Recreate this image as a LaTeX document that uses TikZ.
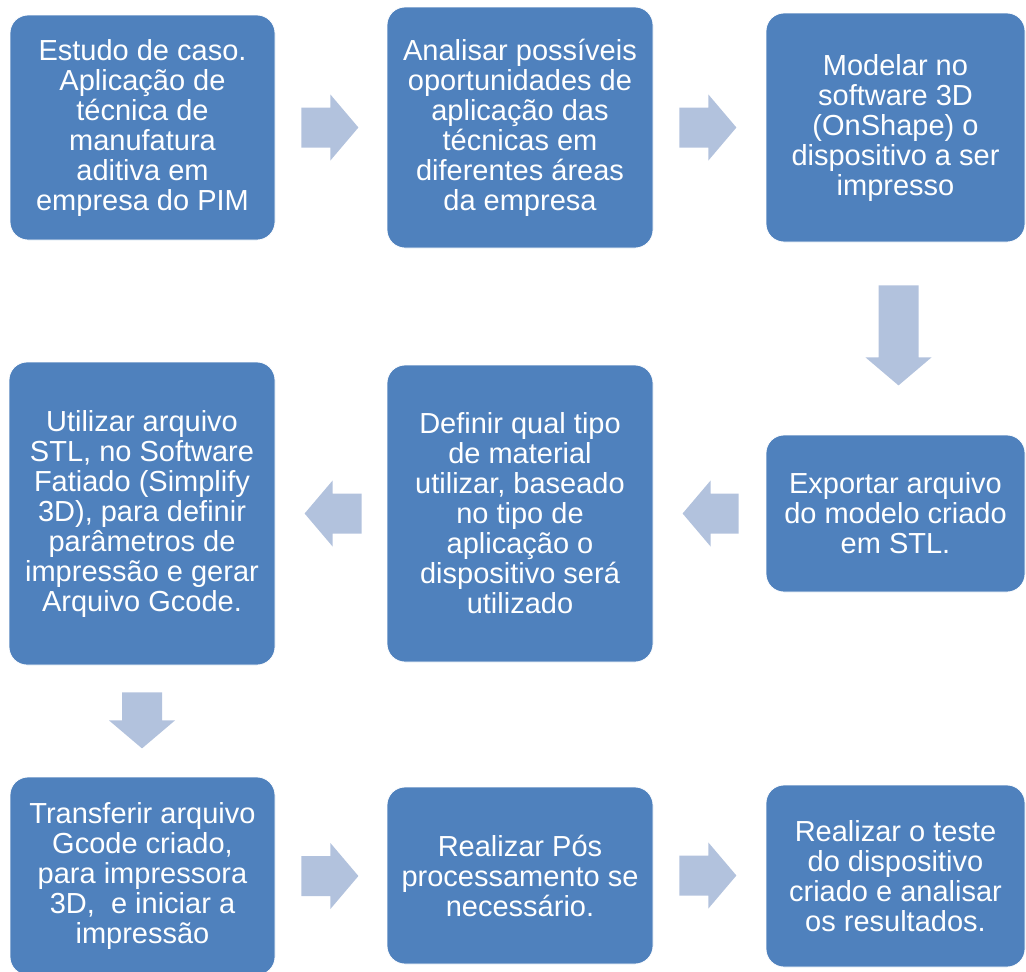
\documentclass[tikz,border=0pt]{standalone}
\usepackage{fontspec}
\setmainfont{Liberation Sans}
\usetikzlibrary{calc}
\definecolor{azul}{RGB}{79,129,189}
\definecolor{azulclaro}{RGB}{178,194,221}

\begin{document}
\begin{tikzpicture}[x=1pt,y=-1pt,
    caixa/.style={rectangle, rounded corners=18pt, fill=azul, draw=white, line width=0.8pt,
      text=white, align=center, inner sep=0pt, font=\fontsize{29}{30}\selectfont},
    pics/seta/.style={code={
      \fill[azulclaro] (0,-20) -- (#1-28,-20) -- (#1-28,-33) -- (#1,0)
        -- (#1-28,33) -- (#1-28,20) -- (0,20) -- cycle;}}]
    \useasboundingbox (0,0) rectangle (1026,972);
    % First row
    \node[caixa, minimum width=265pt, minimum height=225pt] (estudo) at (142.5,127.5)
      {Estudo de caso.\\Aplicação de\\técnica de\\manufatura\\aditiva em\\empresa do PIM};
    \node[caixa, minimum width=266pt, minimum height=241pt] (analisar) at (520,127.5)
      {Analisar possíveis\\oportunidades de\\aplicação das\\técnicas em\\diferentes áreas\\da empresa};
    \node[caixa, minimum width=259pt, minimum height=229pt] (modelar) at (895.5,127.5)
      {Modelar no\\software 3D\\(OnShape) o\\dispositivo a ser\\impresso};
    % Second row
    \node[caixa, minimum width=259pt, minimum height=157pt] (exportar) at (895.5,513.5)
      {Exportar arquivo\\do modelo criado\\em STL.};
    \node[caixa, minimum width=266pt, minimum height=297pt] (definir) at (520,513.5)
      {Definir qual tipo\\de material\\utilizar, baseado\\no tipo de\\aplicação o\\dispositivo será\\utilizado};
    \node[caixa, minimum width=266pt, minimum height=303pt] (utilizar) at (142,513.5)
      {Utilizar arquivo\\STL, no Software\\Fatiado (Simplify\\3D), para definir\\parâmetros de\\impressão e gerar\\Arquivo Gcode.};
    % Third row
    \node[caixa, minimum width=265pt, minimum height=198pt] (transferir) at (142.5,876)
      {Transferir arquivo\\Gcode criado,\\para impressora\\3D,~ e iniciar a\\impressão};
    \node[caixa, minimum width=266pt, minimum height=177pt] (pos) at (520,875.5)
      {Realizar Pós\\processamento se\\necessário.};
    \node[caixa, minimum width=259pt, minimum height=182pt] (teste) at (895.5,876)
      {Realizar o teste\\do dispositivo\\criado e analisar\\os resultados.};
    % Block arrows
    \pic at ($(estudo.east)+(26,0)$) {seta=57};
    \pic at ($(analisar.east)+(26,0)$) {seta=57};
    \pic[rotate=-90] at ($(modelar.south)+(3,43)$) {seta=100};
    \pic[rotate=180] at ($(exportar.west)+(-27,0)$) {seta=56};
    \pic[rotate=180] at ($(definir.west)+(-25,0)$) {seta=57};
    \pic[rotate=-90] at ($(utilizar.south)+(0,27)$) {seta=56};
    \pic at ($(transferir.east)+(26,0)$) {seta=57};
    \pic at ($(pos.east)+(26,0)$) {seta=57};
\end{tikzpicture}
\end{document}
